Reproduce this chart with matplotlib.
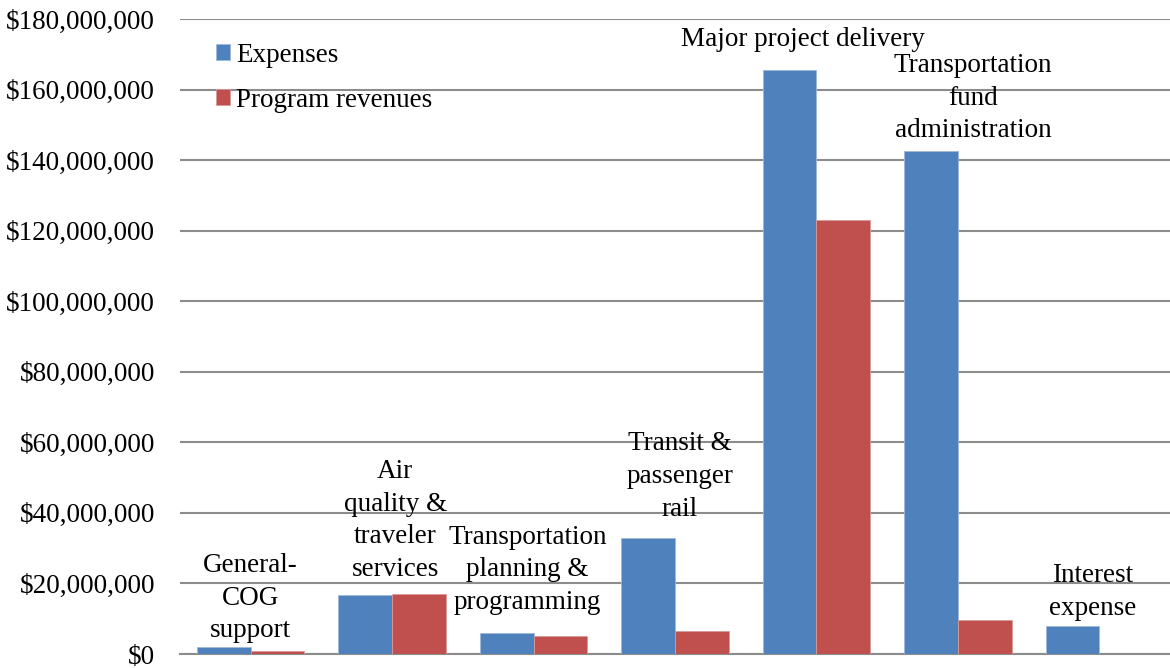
import numpy as np
import matplotlib
matplotlib.use("Agg")
import matplotlib.pyplot as plt
from matplotlib.ticker import FuncFormatter

plt.rcParams['font.family'] = ['Liberation Serif', 'DejaVu Serif']

categories = ["General-\nCOG\nsupport",
              "Air\nquality &\ntraveler\nservices",
              "Transportation\nplanning &\nprogramming",
              "Transit &\npassenger\nrail",
              "Major project delivery",
              "Transportation\nfund\nadministration",
              "Interest\nexpense"]
expenses = [1.9e6, 16.6e6, 6.0e6, 33.0e6, 165.6e6, 142.5e6, 8.0e6]
revenues = [0.8e6, 17.0e6, 5.1e6, 6.4e6, 122.9e6, 9.7e6, 0.0]

# label nudges in pixels (x, y above tallest bar)
label_dx = [0, 3, -6, 5, -13, 15, -7]
label_dy = [4, 12, 18, 16, 18, 8, 5]

blue = "#4F81BD"
red = "#C0504D"

fig = plt.figure(figsize=(11.7, 6.68), dpi=100)
ax = fig.add_axes([180/1170, 1 - 654/668, 1 - 180/1170, (654 - 19)/668])

x = np.arange(len(categories))
w = 0.38
ax.bar(x - w/2, expenses, w, color=blue, label="Expenses", edgecolor="#9DB8DA", linewidth=0.6, zorder=3)
ax.bar(x + w/2, revenues, w, color=red, label="Program revenues", edgecolor="#DA9A98", linewidth=0.6, zorder=3)

for i, name in enumerate(categories):
    top = max(expenses[i], revenues[i])
    ax.annotate(name, (x[i], top), xytext=(label_dx[i], label_dy[i]),
                textcoords="offset pixels", ha="center", va="bottom",
                fontsize=19.5, linespacing=1.4, zorder=4)

ax.set_xlim(-0.5, len(categories) - 0.5)
ax.set_ylim(0, 180e6)
ax.set_yticks(np.arange(0, 180e6 + 1, 20e6))
ax.yaxis.set_major_formatter(FuncFormatter(lambda v, p: "${:,.0f}".format(v)))
ax.tick_params(axis="y", length=0, labelsize=19.5, pad=18)
ax.set_xticks([])
ax.grid(axis="y", color="#8C8C8C", linewidth=1.5, zorder=0)
for s in ["top", "right", "left"]:
    ax.spines[s].set_visible(False)
ax.spines["bottom"].set_color("#8C8C8C")
ax.spines["bottom"].set_linewidth(1.5)

ax.legend(loc="upper left", bbox_to_anchor=(0.025, 0.98), frameon=False, fontsize=19.5,
          handlelength=0.55, handleheight=0.55, handletextpad=0.2, labelspacing=0.75,
          borderaxespad=0)

fig.savefig("out.png", dpi=100)
